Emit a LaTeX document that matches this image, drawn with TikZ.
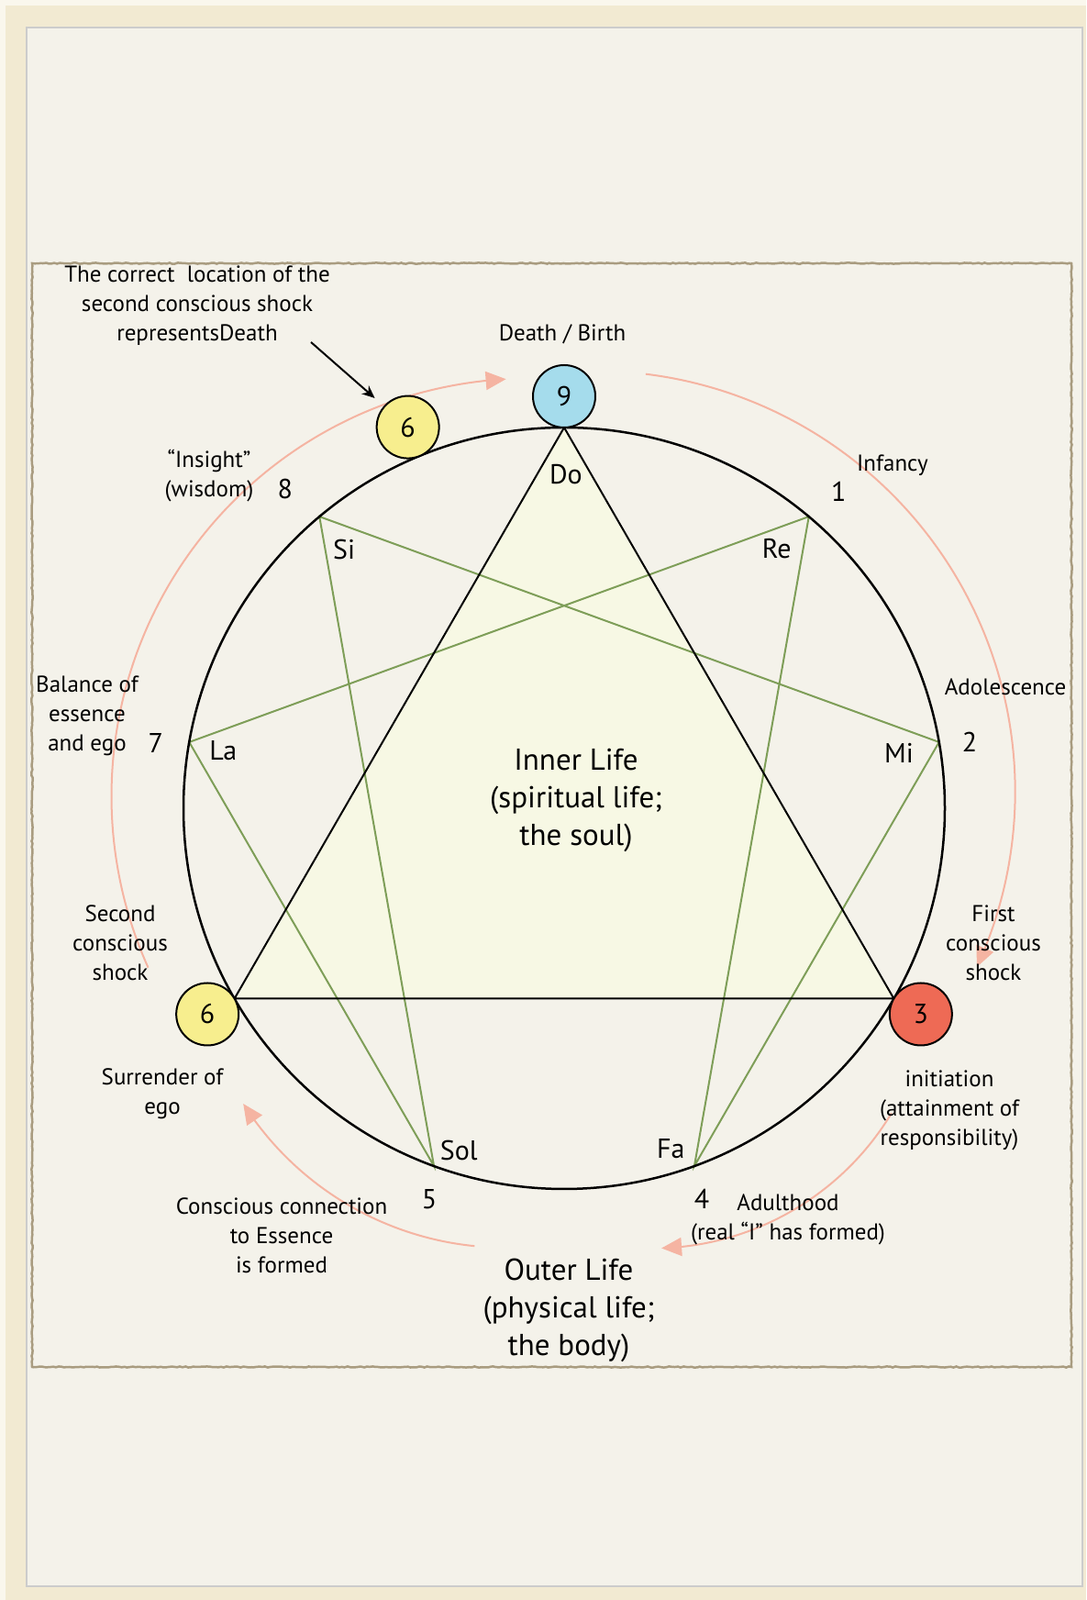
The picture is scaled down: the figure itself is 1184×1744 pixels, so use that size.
\documentclass[tikz,border=0pt]{standalone}
\usepackage{fontspec}
\setmainfont{PT Sans}
\usetikzlibrary{arrows.meta,bending,positioning,decorations.pathmorphing}

\definecolor{paper}{HTML}{F4F2EA}
\definecolor{frame}{HTML}{F2EAD2}
\definecolor{rim}{HTML}{A99C80}
\definecolor{innerfill}{HTML}{F7F8E4}
\definecolor{hexgreen}{HTML}{7E9E58}
\definecolor{shockpink}{HTML}{F5B4A2}
\definecolor{skyblue}{HTML}{A5DCEC}
\definecolor{shockyellow}{HTML}{F7EE8E}
\definecolor{shockred}{HTML}{EE6A55}

\tikzset{
  lbl/.style={font=\fontsize{25}{32}\selectfont, align=center, inner sep=0pt},
  num/.style={font=\fontsize{30}{36}\selectfont, inner sep=0pt},
  life/.style={font=\fontsize{33}{41}\selectfont, align=center, inner sep=0pt},
  dot/.style={circle, draw=black, line width=2pt, minimum size=68pt, inner sep=0pt, font=\fontsize{30}{36}\selectfont},
  flow/.style={draw=shockpink, line width=2pt, -{Triangle[length=22pt,width=20pt]}}
}

\begin{document}
\begin{tikzpicture}[x=1pt,y=1pt]
\useasboundingbox (0,0) rectangle (1184,1744);
% page, frame and border
\fill[white!60!frame] (0,0) rectangle (1184,1744);
\fill[frame] (6,0) rectangle (1184,1738);
\filldraw[fill=paper, draw=black!20, line width=1.5pt] (29,15) rectangle (1180,1714);
\draw[rim, line width=2.5pt, decorate, decoration={random steps,segment length=3pt,amplitude=.6pt}] (35,254) rectangle (1168,1457);

\coordinate (c) at (615,863);
\begin{scope}[shift={(c)}]
  \foreach \n in {1,...,9}
    \coordinate (p\n) at (90-40*\n:415);
\end{scope}

% inner triangle and hexad
\fill[innerfill] (p9) -- (p3) -- (p6) -- cycle;
\draw[hexgreen, line width=2pt] (p1) -- (p4) -- (p2) -- (p8) -- (p5) -- (p7) -- cycle;
\draw[line width=2pt, line join=round] (p9) -- (p3) -- (p6) -- cycle;
\draw[line width=2.5pt] (c) circle[radius=415];

% the flow of life
\draw[flow] (577,876) ++(204.2:455.5) arc[start angle=204.2, end angle=93.2, radius=455.5];
\draw[flow] (648,881) ++(83:458.7) arc[start angle=83, end angle=-24.6, radius=458.7];
\draw[flow] (711,688) ++(-31.1:304.7) arc[start angle=-31.1, end angle=-88.1, radius=304.7];
\draw[flow] (551,723) ++(264.3:338.9) arc[start angle=264.3, end angle=212.5, radius=338.9];

\begin{scope}[shift={(c)}]
  \node[dot, fill=skyblue] (s9) at (90:449) {9};
  \node[dot, fill=shockyellow] (s6a) at (112.3:449) {6};
  \node[dot, fill=shockyellow] (s6) at (210:449) {6};
  \node[dot, fill=shockred] (s3) at (-30:449) {3};
  \foreach \a/\r/\t in {49.1/457/1, 9.3/448/2, -70.6/452/4, -109/451/5, 170.9/451/7, 131.2/462/8}
    \node[num] (n\t) at (\a:\r) {\t};
  \foreach \a/\r/\t in {89.7/364/Do, 50.7/366/Re, 9.4/370/Mi, -72.6/389/Fa, -107.1/390/Sol, 170.4/377/La, 130.4/370/Si}
    \node[num] (note\t) at (\a:\r) {\t};
\end{scope}

% labels
\node[lbl] (correct) at (215,1411) {The correct\ \ location of the\\second conscious shock\\representsDeath};
\coordinate (hint) at (339,1371);
\draw[-{Stealth[length=14pt,width=12pt]}, line width=2pt, shorten >=13pt] (hint) -- (s6a);
\node[lbl] (death) at (613,1380) {Death / Birth};
\node[lbl] (infancy) at (973,1237) {Infancy};
\node[lbl] (adol) at (1096,995) {Adolescence};
\node[lbl] (first) at (1083,716) {First\\conscious\\shock};
\node[lbl] (init) at (1035,534) {initiation\\(attainment of\\responsibility)};
\node[lbl] (adult) at (859,415) {Adulthood\\(real “I” has formed)};
\node[life] (outer) at (620,316) {Outer Life\\(physical life;\\the body)};
\node[lbl] (connect) at (307,397) {Conscious connection\\to Essence\\is formed};
\node[lbl] (surrender) at (177,552) {Surrender of\\ego};
\node[lbl] (second) at (131,716) {Second\\conscious\\shock};
\node[lbl] (balance) at (95,964) {Balance of\\essence\\and ego};
\node[lbl] (insight) at (228,1225) {“Insight”\\(wisdom)};
\node[life] (inner) at (628,872) {Inner Life\\(spiritual life;\\the soul)};
\end{tikzpicture}
\end{document}
